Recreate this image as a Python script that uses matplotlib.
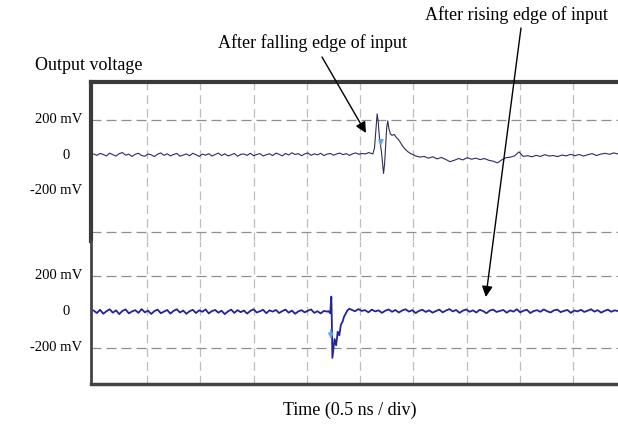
import numpy as np
import matplotlib
matplotlib.use("Agg")
import matplotlib.pyplot as plt

plt.rcParams['font.family'] = ['Liberation Serif', 'DejaVu Serif']

# ---- data (time in divisions of 0.5 ns, voltage in mV) ----
# upper trace: output after the falling edge of the input
top_pre_v = [6, -2, 9, 3, -5, 11, 2, -6, 8, 14, -1, 5, -8, 4, 10, -3, -7, 6, 1, -9, 5, 12, -2, 7, -5, 3, 9, -7, 0, 6,
             -4, 10, 2, -8, 5, -1, 8, -6, 3, 11, -3, 7, -5, 1, 9, -7, 4, 6, -2, 10, -4, 3, 8, -6, 2, 7, -3, 11, 4, -5,
             9, 0, 13, 3, 8, -4, 6, 12, -2, 7, 1, 10, -3, 5, 9, -1, 6, 11, 2, 8, -2, 7, 12, 4, 9, 6, 14]
top_event_t = [5.20, 5.24, 5.27, 5.30, 5.32, 5.34, 5.36, 5.38, 5.40, 5.42, 5.44, 5.46, 5.48, 5.50, 5.52,
               5.54, 5.57, 5.60, 5.64, 5.68, 5.72, 5.76, 5.80, 5.85, 5.90, 5.95, 6.00]
top_event_v = [10, 6, 40, 160, 235, 190, 110, 60, 20, -40, -105, -50, 60, 160, 195,
               150, 120, 112, 118, 100, 88, 70, 50, 32, 18, 8, 2]
top_post_v = [-5, -12, -8, -18, -10, -22, -14, -25, -38, -30, -20, -28, -15, -24, -18, -26, -20, -30, -35, -45,
              -28, -15, -12, -5, 18, -8, -4, -10, -2, -8, 2, -6, -3, -9, 0, -5, 4, -4, 3, -6, 2, 8, -3, 5,
              10, 4, 12, 6]

# lower trace: output after the rising edge of the input
bot_pre_v = [8, -6, 12, -10, 4, 15, -4, 9, -12, 6, 14, -8, 3, 10, -5, 16, -2, 7, -11, 5, 13, -7, 2, 11, -9, 6, 15, -3, 8, -10,
             4, 12, -6, 9, 1, 14, -8, 5, 11, -4, 7, -12, 3, 13, -5, 10, -1, 8, -9, 6, 15, -3, 4, 12, -7, 9, 2, 11, -6, 5,
             13, -4, 8, -10, 3, 10, -2, 7, 14, -5, 4, -8, 6, 2]
bot_event_t = [4.41, 4.44, 4.46, 4.47, 4.48, 4.50, 4.52, 4.55, 4.58, 4.61, 4.64, 4.67, 4.70, 4.73, 4.76, 4.80]
bot_event_v = [4, -8, 85, -60, -255, -200, -150, -185, -110, -130, -70, -55, -25, -10, 8, 18]
bot_post_v = [12, 4, 16, 6, 10, -2, 13, 3, 9, -5, 7, 14, 1, 11, -3, 8, 15, 2, 10, -6, 6, 12, 0, 9, -4, 5, 13, -2, 8, 16,
              3, 11, -5, 7, 14, 1, 9, -3, 12, 5, -7, 8, 13, 0, 6, 11, -4, 9, 2, 15, -2, 7, 12, -6, 5, 10, 1, 14, 4, -3,
              9, 13, -1, 6, 11, -5, 8, 3, 12, 0, 7, 15, 2, 10, -4, 6, 13, 1, 9, 5]

# trigger markers (time, from mV, to mV)
top_marker = (5.39, 75, 38)
bot_marker = (4.45, -85, -165)

volt_labels = ["200 mV", "0", "-200 mV"]
volt_levels = [200, 0, -200]

top_t = np.concatenate([np.linspace(0, 5.16, len(top_pre_v)), top_event_t,
                        np.linspace(6.04, 9.84, len(top_post_v))])
top_v = np.concatenate([top_pre_v, top_event_v, top_post_v])
bot_t = np.concatenate([np.linspace(0, 4.38, len(bot_pre_v)), bot_event_t,
                        np.linspace(4.84, 9.84, len(bot_post_v))])
bot_v = np.concatenate([bot_pre_v, bot_event_v, bot_post_v])

W, H = 618, 425
fig = plt.figure(figsize=(W / 100, H / 100), dpi=100)

def frac(x0, y0, x1, y1):
    return [x0 / W, 1 - y1 / H, (x1 - x0) / W, (y1 - y0) / H]

ax_top = fig.add_axes(frac(91, 82, 618, 241))
ax_bot = fig.add_axes(frac(91, 241, 618, 384))

grid_v = dict(color='#bdbdbd', lw=0.9, ls=(0, (7, 4)), zorder=1)
grid_h = dict(color='#8f8f8f', lw=0.9, ls=(0, (8, 4)), zorder=1)

for ax in (ax_top, ax_bot):
    ax.set_xlim(-0.05, 9.84)
    ax.set_xticks([])
    ax.set_yticks([])
    for k in range(1, 10):
        ax.axvline(k, **grid_v)
    for s in ax.spines.values():
        s.set_visible(False)

ax_top.set_ylim(-491, 417)
ax_bot.set_ylim(-400, 394)

for lvl in (200, -440):
    ax_top.axhline(lvl, **grid_h)
for lvl in (200, -200):
    ax_bot.axhline(lvl, **grid_h)

ax_top.spines['top'].set_visible(True)
ax_top.spines['top'].set_linewidth(3)
ax_top.spines['top'].set_color('#3a3a3a')
ax_top.spines['left'].set_visible(True)
ax_top.spines['left'].set_linewidth(3)
ax_top.spines['left'].set_color('#3a3a3a')
ax_bot.spines['left'].set_visible(True)
ax_bot.spines['left'].set_linewidth(2)
ax_bot.spines['left'].set_color('#444444')
ax_bot.spines['bottom'].set_visible(True)
ax_bot.spines['bottom'].set_linewidth(2.5)
ax_bot.spines['bottom'].set_color('#444444')

ax_top.plot(top_t, top_v, color='#2e2c5e', lw=0.8, zorder=3)
ax_bot.plot(bot_t, bot_v, color='#23239a', lw=1.3, zorder=3)

for ax, (mt, m0, m1) in ((ax_top, top_marker), (ax_bot, bot_marker)):
    ax.annotate('', xy=(mt, m1), xytext=(mt, m0),
                arrowprops=dict(arrowstyle='-|>', color='#5fa6e6', lw=1.2,
                                mutation_scale=7), zorder=4)

# voltage labels
lab_x = {"200 mV": 82, "0": 70, "-200 mV": 82}
for ax in (ax_top, ax_bot):
    tr = ax.get_yaxis_transform()
    for lab, lvl in zip(volt_labels, volt_levels):
        ax.text((lab_x[lab] - 91) / 527, lvl, lab, transform=tr, ha='right',
                va='center', fontsize=10.5, clip_on=False)

fs = 13
fig.text(35 / W, 1 - 66 / H, "Output voltage", ha='left', va='center', fontsize=fs)
fig.text(218 / W, 1 - 43 / H, "After falling edge of input", ha='left', va='center', fontsize=fs)
fig.text(425 / W, 1 - 15 / H, "After rising edge of input", ha='left', va='center', fontsize=fs)
fig.text(350 / W, 1 - 410 / H, "Time (0.5 ns / div)", ha='center', va='center', fontsize=fs)

arrow_kw = dict(arrowstyle='-|>', color='black', lw=1.0, mutation_scale=16,
                shrinkA=0, shrinkB=0)
ax_top.annotate('', xy=(5.11, 126), xycoords='data',
                xytext=(322 / W, 1 - 57 / H), textcoords='figure fraction',
                arrowprops=arrow_kw, annotation_clip=False)
ax_bot.annotate('', xy=(7.36, 83), xycoords='data',
                xytext=(521 / W, 1 - 28 / H), textcoords='figure fraction',
                arrowprops=arrow_kw, annotation_clip=False)

fig.savefig("out.png", dpi=100)
